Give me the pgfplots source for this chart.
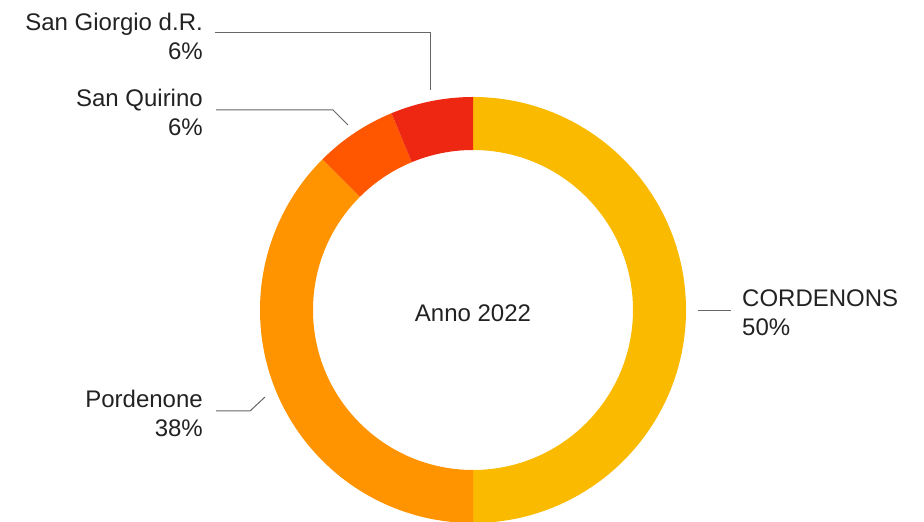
\documentclass[border=0pt]{standalone}
\usepackage{fontspec}
\setmainfont{Liberation Sans}
\usepackage{pgfplots}
\usepackage{pgfplotstable}
\pgfplotsset{compat=1.18}

\definecolor{cCord}{HTML}{F9BA00}
\definecolor{cPord}{HTML}{FF9400}
\definecolor{cSQ}{HTML}{FF5700}
\definecolor{cSG}{HTML}{EE2712}
\definecolor{leader}{HTML}{666666}
\definecolor{txt}{HTML}{222222}

% one row per slice, clockwise from the top
\pgfplotstableread{
label      value
CORDENONS  8
Pordenone  6
SanQuirino 1
SanGiorgio 1
}\donutdata

% ring slice between two angles, centre (473,212) in axis units
\newcommand\sector[3]{%
  \fill[#3] (axis cs:473,212) ++(#1:213pt)
    arc[start angle=#1, end angle=#2, radius=213pt]
    -- ++(#2:-53pt)
    arc[start angle=#2, end angle=#1, radius=160pt] -- cycle;}

\begin{document}
\begin{tikzpicture}[font=\fontsize{24}{29}\selectfont]
  \pgfplotstablegetelem{0}{value}\of\donutdata \let\vA\pgfplotsretval
  \pgfplotstablegetelem{1}{value}\of\donutdata \let\vB\pgfplotsretval
  \pgfplotstablegetelem{2}{value}\of\donutdata \let\vC\pgfplotsretval
  \pgfplotstablegetelem{3}{value}\of\donutdata \let\vD\pgfplotsretval
  \pgfmathsetmacro\tot{\vA+\vB+\vC+\vD}
  \pgfmathsetmacro\aA{90}
  \pgfmathsetmacro\aB{\aA-360*\vA/\tot}
  \pgfmathsetmacro\aC{\aB-360*\vB/\tot}
  \pgfmathsetmacro\aD{\aC-360*\vC/\tot}
  \pgfmathsetmacro\aE{\aD-360*\vD/\tot}
  \begin{axis}[
      hide axis,
      scale only axis,
      width=924pt, height=522pt,
      xmin=0, xmax=924,
      ymin=0, ymax=522,
      clip=true,
    ]
    \path (axis cs:0,0) rectangle (axis cs:924,522);

    \sector{\aA}{\aB}{cCord}
    \sector{\aB}{\aC}{cPord}
    \sector{\aC}{\aD}{cSQ}
    \sector{\aD}{\aE}{cSG}

    % leader lines
    \draw[leader, line width=1pt] (axis cs:215,489) -- (axis cs:430,489) -- (axis cs:430,432);
    \draw[leader, line width=1pt] (axis cs:216,412) -- (axis cs:333,412) -- (axis cs:348,397);
    \draw[leader, line width=1pt] (axis cs:216,111) -- (axis cs:250,111) -- (axis cs:265,125);
    \draw[leader, line width=1pt] (axis cs:698,211) -- (axis cs:731,211);

    % labels
    \node[txt, anchor=east, align=right, inner sep=0pt] at (axis cs:203,486) {San Giorgio d.R.\\6\%};
    \node[txt, anchor=east, align=right, inner sep=0pt] at (axis cs:203,410) {San Quirino\\6\%};
    \node[txt, anchor=east, align=right, inner sep=0pt] at (axis cs:203,108.5) {Pordenone\\38\%};
    \node[txt, anchor=west, align=left, inner sep=0pt] at (axis cs:742,209.5) {CORDENONS\\50\%};
    \node[txt, inner sep=0pt] at (axis cs:473,209) {Anno 2022};
  \end{axis}
  \pgfresetboundingbox
  \path (0,0) rectangle (924pt,522pt);
\end{tikzpicture}
\end{document}
